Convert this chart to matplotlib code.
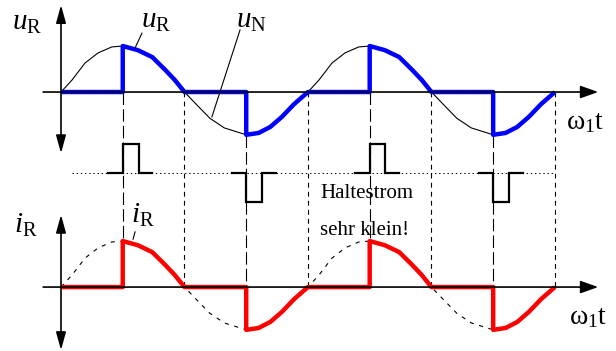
import numpy as np
import matplotlib
matplotlib.use("Agg")
import matplotlib.pyplot as plt

plt.rcParams["font.family"] = ["Liberation Serif", "DejaVu Serif"]
plt.rcParams["mathtext.fontset"] = "custom"
plt.rcParams["mathtext.rm"] = "Liberation Serif"
plt.rcParams["mathtext.it"] = "Liberation Serif:italic"
plt.rcParams["lines.scale_dashes"] = False

# Netzspannung, eine Periode (Stuetzstellen, normiert auf den Scheitelwert)
phase = [0, 16, 35, 54, 74, 90, 112, 133, 152, 166, 180,
         198, 217, 238, 270, 288, 305, 322, 340, 360]
wave = [0.0, 0.26, 0.63, 0.85, 0.98, 1.0, 0.91, 0.76, 0.48, 0.26, 0.0,
        -0.28, -0.57, -0.78, -0.93, -0.89, -0.76, -0.54, -0.26, 0.0]

periods = [0, 360]
alpha = 90                 # Zuendwinkel (grd)
zero_cross = [180, 360, 540, 720]
fire_pos = [90, 450]
fire_neg = [270, 630]

# Zuendimpulse: Vorlauf, Breite, Nachlauf (grd) und Hoehe
pulse_lead, pulse_width, pulse_tail = 21, 23, 20
pulse_height = 0.63

# Achsen-Layout (y: Einheiten des Scheitelwerts)
Y_U, Y_P, Y_I = 5.63, 3.87, 1.39
DEG_PX = 0.686


def full_wave():
    x, y = [], []
    for p0 in periods:
        x += [p0 + p for p in phase]
        y += wave
    return np.array(x), np.array(y)


def gated_wave():
    # Strom/Spannung am Widerstand: Null bis zur Zuendung, dann Netzspannung
    x, y = [0.0], [0.0]
    for p0 in periods:
        for start, stop in [(alpha, 180), (180 + alpha, 360)]:
            sel = [(p, v) for p, v in zip(phase, wave) if start <= p <= stop]
            x += [p0 + start] + [p0 + p for p, _ in sel]
            y += [0.0] + [v for _, v in sel]
    return np.array(x), np.array(y)


fig = plt.figure(figsize=(6.16, 3.51), dpi=100)
ax = fig.add_axes([0, 0, 1, 1])
ax.set_xlim(-61 / DEG_PX, (616 - 61) / DEG_PX)
ax.set_ylim(0, 351 / 46)
ax.axis("off")

xs, ys = full_wave()
xg, yg = gated_wave()

# ---- senkrechte Hilfslinien ----
for f in fire_pos:
    ax.plot([f, f], [Y_U, Y_I + 1.0], color="k", lw=0.8, dashes=(9, 3))
for f in fire_neg:
    ax.plot([f, f], [Y_U - 0.93, Y_I], color="k", lw=0.8, dashes=(9, 3))
for z in zero_cross:
    ax.plot([z, z], [Y_U, Y_I], color="k", lw=0.8, dashes=(3.5, 3))

# ---- oben: Spannung ----
ax.plot(xs, Y_U + ys, color="k", lw=0.8)
ax.annotate("", xy=(783, Y_U), xytext=(-26, Y_U),
            arrowprops=dict(arrowstyle="-|>,head_length=0.9,head_width=0.32",
                            mutation_scale=12, lw=1.2, color="k",
                            shrinkA=0, shrinkB=0))
ax.annotate("", xy=(0, 7.52), xytext=(0, 4.30),
            arrowprops=dict(arrowstyle="<|-|>,head_length=0.9,head_width=0.25",
                            mutation_scale=12, lw=1.2, color="k",
                            shrinkA=0, shrinkB=0))
ax.plot(xg, Y_U + yg, color="#0000ff", lw=3.2,
        solid_joinstyle="round", solid_capstyle="butt")

# ---- Mitte: Zuendimpulse ----
ax.plot([16, 720], [Y_P, Y_P], color="k", lw=0.7, dashes=(1, 2))
for f, sgn in [(f, 1) for f in fire_pos] + [(f, -1) for f in fire_neg]:
    px_ = [f - pulse_lead, f, f, f + pulse_width, f + pulse_width,
           f + pulse_width + pulse_tail]
    py_ = [0, 0, 1, 1, 0, 0]
    ax.plot(px_, [Y_P + sgn * pulse_height * v for v in py_], color="k",
            lw=1.6, solid_joinstyle="miter")

# ---- unten: Strom ----
ax.plot(xs, Y_I + ys, color="k", lw=0.8, dashes=(3, 4))
ax.annotate("", xy=(783, Y_I), xytext=(-26, Y_I),
            arrowprops=dict(arrowstyle="-|>,head_length=0.9,head_width=0.32",
                            mutation_scale=12, lw=1.2, color="k",
                            shrinkA=0, shrinkB=0))
ax.annotate("", xy=(0, 2.96), xytext=(0, 0.02),
            arrowprops=dict(arrowstyle="<|-|>,head_length=0.9,head_width=0.25",
                            mutation_scale=12, lw=1.2, color="k",
                            shrinkA=0, shrinkB=0))
ax.plot(xg, Y_I + yg, color="#ff0000", lw=3.2,
        solid_joinstyle="round", solid_capstyle="butt")

# ---- Hinweislinien ----
ax.plot([118, 108], [6.91, 6.59], color="k", lw=0.8)
ax.plot([261, 220], [6.98, 5.09], color="k", lw=0.8)
ax.plot([108, 105], [2.59, 2.43], color="k", lw=0.8)


def put(x, y, s, size, **kw):
    fig.text(x / 616, 1 - y / 351, s, fontsize=size, va="baseline", **kw)


put(12, 30, r"$u_{\mathrm{R}}$", 21)
put(141, 28, r"$u_{\mathrm{R}}$", 21)
put(236, 28, r"$u_{\mathrm{N}}$", 21)
put(14, 233, r"$i_{\mathrm{R}}$", 21)
put(131, 223, r"$i_{\mathrm{R}}$", 21)
put(566, 129, r"$\mathrm{\omega}_{\mathrm{1}}\mathrm{t}$", 20)
put(569, 324, r"$\mathrm{\omega}_{\mathrm{1}}\mathrm{t}$", 20)
put(320, 198, "Haltestrom", 15)
put(320, 235, "sehr klein!", 15)

fig.savefig("out.png", dpi=100)
